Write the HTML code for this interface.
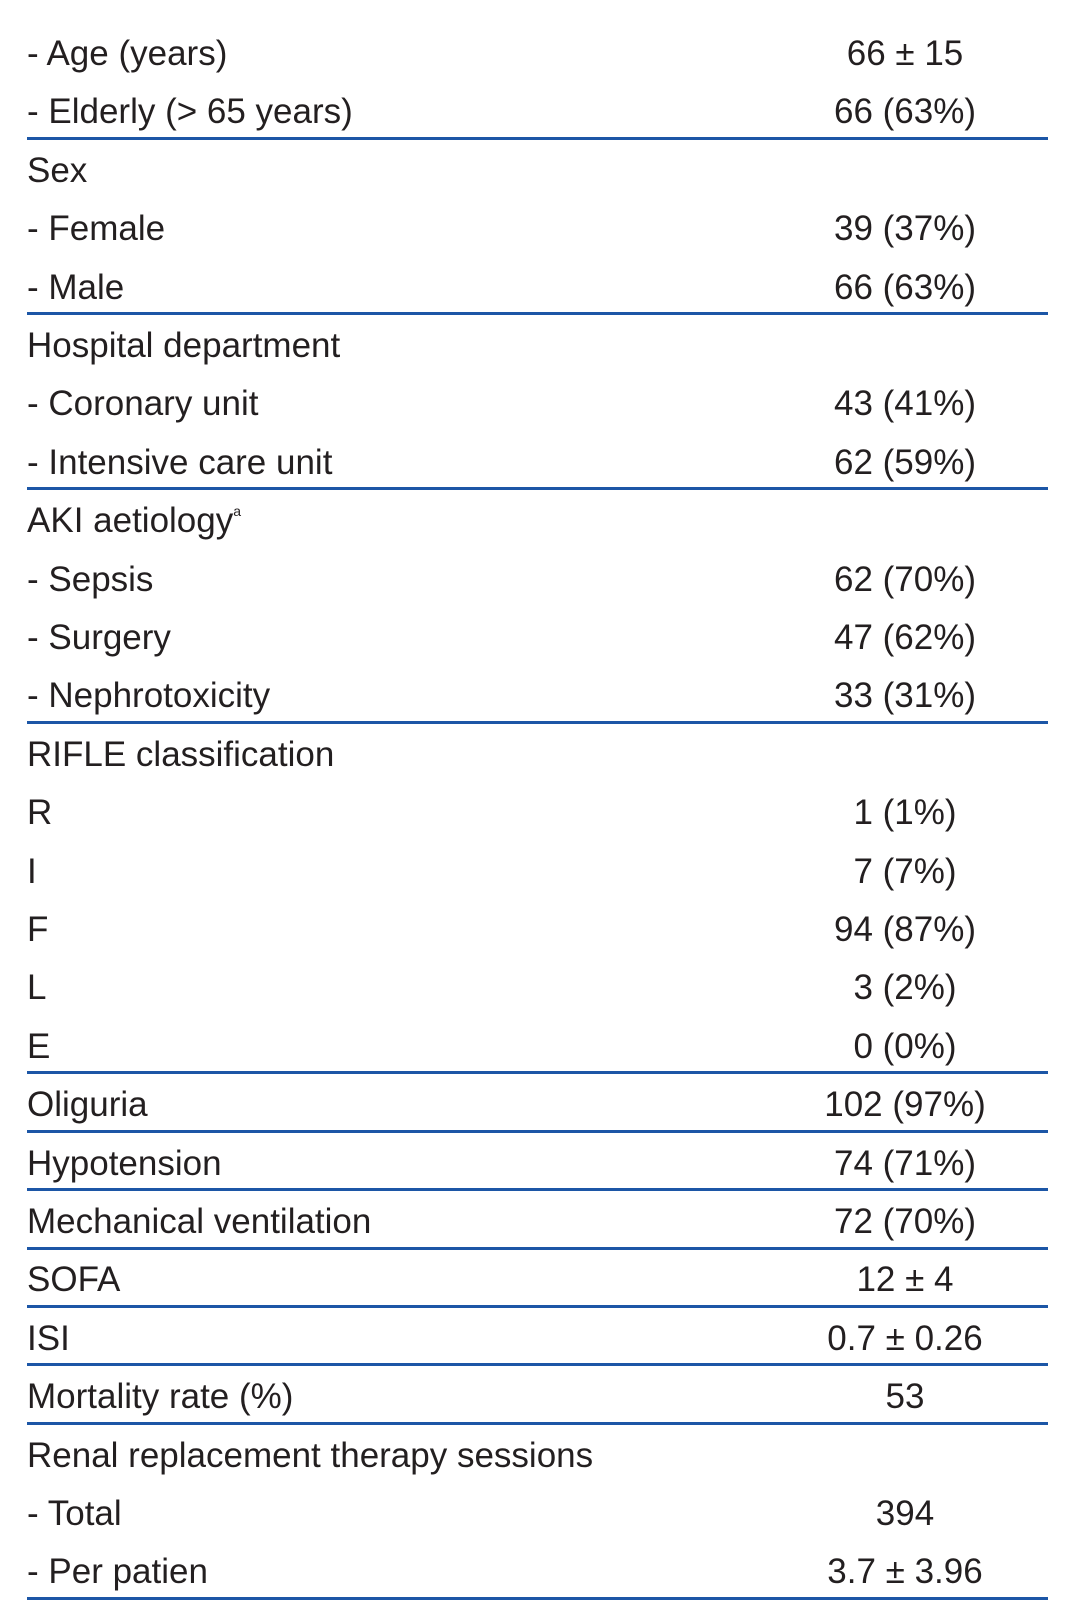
<!DOCTYPE html>
<html><head><meta charset="utf-8"><style>
body{margin:0;width:1081px;height:1622px;background:#fff;position:relative;overflow:hidden;font-family:"Liberation Sans",sans-serif;color:#231f20;}
.l,.v{position:absolute;font-size:35px;line-height:40px;height:40px;white-space:nowrap;}
.l{left:27px;}
.v{left:755px;width:300px;text-align:center;}
.hr{position:absolute;left:27px;width:1021px;height:3px;background:#1c56a6;}
sup{font-size:14px;line-height:0;vertical-align:baseline;position:relative;top:-16px;}
</style></head><body>
<div id="t"></div>
<script>
const labels=["- Age (years)","- Elderly (> 65 years)","Sex","- Female","- Male","Hospital department","- Coronary unit","- Intensive care unit","AKI aetiology<sup>a</sup>","- Sepsis","- Surgery","- Nephrotoxicity","RIFLE classification","R","I","F","L","E","Oliguria","Hypotension","Mechanical ventilation","SOFA","ISI","Mortality rate (%)","Renal replacement therapy sessions","- Total","- Per patien"];
const values=["66 ± 15","66 (63%)","","39 (37%)","66 (63%)","","43 (41%)","62 (59%)","","62 (70%)","47 (62%)","33 (31%)","","1 (1%)","7 (7%)","94 (87%)","3 (2%)","0 (0%)","102 (97%)","74 (71%)","72 (70%)","12 ± 4","0.7 ± 0.26","53","","394","3.7 ± 3.96"];
const linesAfter=[1,4,7,11,17,18,19,20,21,22,23,26];
const t=document.getElementById('t');
const pitch=58.4, c0=54;
labels.forEach((s,i)=>{
  const y=c0+pitch*i-20;
  const a=document.createElement('div');a.className='l';a.style.top=y+'px';a.innerHTML=s;
  
  
  t.appendChild(a);
  if(values[i]){const b=document.createElement('div');b.className='v';b.style.top=y+'px';b.textContent=values[i];
  
  
  t.appendChild(b);}
});
linesAfter.forEach(i=>{
  const h=document.createElement('div');h.className='hr';h.style.top=(c0+pitch*i+24.5)+'px';
  
  
  t.appendChild(h);
});
</script>
</body></html>
